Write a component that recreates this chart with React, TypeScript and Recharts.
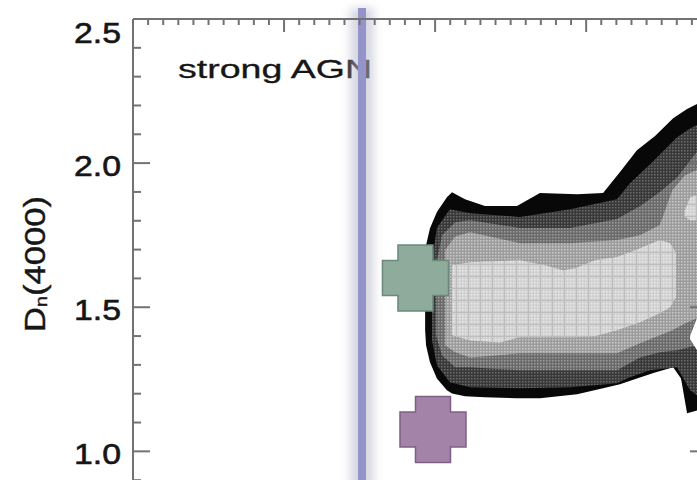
import React from 'react'
import { ComposedChart, Area, Scatter, XAxis, YAxis, ReferenceLine } from 'recharts'

type Band = [number, number, number][]

// density contours, outermost first: [x, lower D_n, upper D_n]
const bandOuter: Band = [
  [10.967, 1.42, 1.587],
  [10.97, 1.368, 1.715],
  [10.983, 1.309, 1.774],
  [11.006, 1.253, 1.83],
  [11.039, 1.212, 1.882],
  [11.056, 1.201, 1.899],
  [11.099, 1.191, 1.875],
  [11.165, 1.188, 1.851],
  [11.271, 1.184, 1.851],
  [11.347, 1.184, 1.896],
  [11.47, 1.198, 1.892],
  [11.556, 1.219, 1.896],
  [11.612, 1.233, 1.969],
  [11.668, 1.253, 2.045],
  [11.728, 1.274, 2.094],
  [11.788, 1.292, 2.156],
  [11.814, 1.253, 2.174],
  [11.834, 1.132, 2.188],
  [11.867, 1.142, 2.205],
  [11.9, 1.16, 2.219],
]

const bandDark: Band = [
  [10.99, 1.385, 1.663],
  [11.006, 1.299, 1.775],
  [11.049, 1.24, 1.84],
  [11.116, 1.222, 1.826],
  [11.281, 1.219, 1.813],
  [11.447, 1.222, 1.84],
  [11.602, 1.236, 1.875],
  [11.645, 1.257, 1.93],
  [11.711, 1.281, 1.995],
  [11.801, 1.292, 2.09],
  [11.844, 1.212, 2.12],
  [11.867, 1.194, 2.132],
  [11.9, 1.194, 2.145],
]

const bandMid: Band = [
  [11.003, 1.403, 1.646],
  [11.023, 1.333, 1.75],
  [11.066, 1.292, 1.795],
  [11.116, 1.292, 1.802],
  [11.281, 1.281, 1.775],
  [11.447, 1.281, 1.775],
  [11.602, 1.281, 1.806],
  [11.678, 1.326, 1.85],
  [11.744, 1.344, 1.9],
  [11.801, 1.351, 1.95],
  [11.867, 1.368, 2.04],
  [11.9, 1.368, 2.06],
]

const bandLight: Band = [
  [11.033, 1.368, 1.698],
  [11.066, 1.344, 1.745],
  [11.116, 1.326, 1.76],
  [11.281, 1.34, 1.722],
  [11.447, 1.34, 1.722],
  [11.602, 1.34, 1.733],
  [11.678, 1.375, 1.75],
  [11.744, 1.403, 1.785],
  [11.785, 1.42, 1.906],
  [11.827, 1.444, 1.958],
  [11.867, 1.462, 1.976],
  [11.9, 1.462, 1.976],
]

const bandCore: Band = [
  [11.056, 1.403, 1.646],
  [11.116, 1.385, 1.656],
  [11.215, 1.378, 1.66],
  [11.281, 1.396, 1.663],
  [11.364, 1.396, 1.646],
  [11.423, 1.396, 1.628],
  [11.463, 1.396, 1.635],
  [11.529, 1.399, 1.663],
  [11.602, 1.42, 1.674],
  [11.678, 1.448, 1.705],
  [11.744, 1.479, 1.733],
  [11.778, 1.5, 1.722],
  [11.797, 1.535, 1.69],
]

const bandCoreLobe: Band = [
  [11.824, 1.816, 1.83],
  [11.844, 1.802, 1.882],
  [11.867, 1.802, 1.889],
  [11.9, 1.809, 1.889],
]

// empty wedge cutting into the right edge
const bandGap: Band = [
  [11.844, 1.39, 1.4],
  [11.867, 1.351, 1.462],
  [11.9, 1.33, 1.48],
]

const sampleA = [{ x: 10.935, y: 1.601 }]
const sampleB = [{ x: 10.993, y: 1.076 }]

const agnCut = 10.758
const agnCutTop = 2.538

const xDomain: [number, number] = [10, 11.9]
const yDomain: [number, number] = [0.8, 2.5]
const yMajor = [1.0, 1.5, 2.0, 2.5]

const xTicks = Array.from({ length: 38 }, (_, i) => Math.round((10.05 + i * 0.05) * 100) / 100)
const yTicks = Array.from({ length: 18 }, (_, i) => Math.round((0.8 + i * 0.1) * 10) / 10)

const axisColor = '#727272'
const inkColor = '#161616'
const font = '"Liberation Sans", Arial, sans-serif'

const toRange = (rows: Band) => rows.map(([x, lo, hi]) => ({ x, range: [lo, hi] }))

const isMajorY = (v: number) => yMajor.some((m) => Math.abs(m - v) < 1e-6)
const isMajorX = (v: number) => Math.abs(v * 2 - Math.round(v * 2)) < 1e-6

function LeftTick(props: any) {
  const { x, y, payload } = props
  const v = payload.value as number
  const major = isMajorY(v)
  // the top label sits below the frame corner
  const dy = Math.abs(v - yDomain[1]) < 1e-6 ? 24 : 13
  return (
    <g>
      <line x1={x} x2={x + (major ? 17 : 8)} y1={y} y2={y} stroke={axisColor} strokeWidth={2} />
      {major && (
        <text
          x={x - 12}
          y={y + dy}
          textAnchor="end"
          fontSize={30}
          fontFamily={font}
          fill={inkColor}
          stroke={inkColor}
          strokeWidth={0.6}
          textLength={47}
          lengthAdjust="spacingAndGlyphs"
        >
          {v.toFixed(1)}
        </text>
      )}
    </g>
  )
}

function RightTick(props: any) {
  const { x, y, payload } = props
  const major = isMajorY(payload.value)
  return <line x1={x} x2={x - (major ? 17 : 8)} y1={y} y2={y} stroke={axisColor} strokeWidth={2} />
}

function TopTick(props: any) {
  const { x, y, payload } = props
  const major = isMajorX(payload.value)
  return <line x1={x} x2={x} y1={y} y2={y + (major ? 13 : 6)} stroke={axisColor} strokeWidth={2} />
}

const crossShape = (fill: string, stroke: string) => (props: any) => {
  const { cx, cy } = props
  const h = 33
  const a = 17.5
  const d = `M${cx - a},${cy - h}H${cx + a}V${cy - a}H${cx + h}V${cy + a}H${cx + a}V${cy + h}H${cx - a}V${cy + a}H${cx - h}V${cy - a}H${cx - a}Z`
  return <path d={d} fill={fill} stroke={stroke} strokeWidth={1.5} />
}

function CutLine(props: any) {
  const { x1, y1, x2, y2 } = props
  return (
    <g>
      <line x1={x1} y1={y1} x2={x2} y2={y2} stroke="#b8b8cc" strokeWidth={24} strokeOpacity={0.55} filter="url(#cutGlow)" />
      <line x1={x1} y1={y1} x2={x2} y2={y2} stroke="#9494c9" strokeWidth={8} />
    </g>
  )
}

function Halftone({ id, base, dot }: { id: string; base: string; dot: string }) {
  return (
    <pattern id={id} width={3} height={3} patternUnits="userSpaceOnUse">
      <rect width={3} height={3} fill={base} />
      <rect width={1.5} height={1.5} fill={dot} />
    </pattern>
  )
}

export default function App() {
  return (
    <div style={{ position: 'relative', width: 730, height: 509 }}>
      <style>{'html,body{margin:0;padding:0;overflow:hidden;background:#fff}'}</style>
      <svg width={730} height={509} style={{ position: 'absolute', left: 0, top: 0 }}>
        <text
          x={178}
          y={78}
          fontSize={25}
          fontFamily={font}
          fill={inkColor}
          stroke={inkColor}
          strokeWidth={0.3}
          textLength={194}
          lengthAdjust="spacingAndGlyphs"
        >
          strong AGN
        </text>
        <text
          transform="translate(45,264) rotate(-90)"
          textAnchor="middle"
          fontSize={30}
          fontFamily={font}
          fill={inkColor}
          stroke={inkColor}
          strokeWidth={0.4}
          textLength={136}
          lengthAdjust="spacingAndGlyphs"
        >
          D<tspan fontSize={17} dy={2}>n</tspan>
          <tspan dy={-2}>(4000)</tspan>
        </text>
      </svg>
      <div style={{ position: 'absolute', left: 0, top: 0 }}>
        <ComposedChart width={730} height={509} margin={{ top: 18, right: 0, bottom: 0, left: 0 }}>
          <defs>
            <Halftone id="toneDark" base="#383838" dot="#6c6c6c" />
            <Halftone id="toneMid" base="#6a6a6a" dot="#9c9c9c" />
            <Halftone id="toneLight" base="#9c9c9c" dot="#cacaca" />
            <Halftone id="toneCoreDots" base="#cfcfcf" dot="#eeeeee" />
            <pattern id="toneCore" width={12} height={12} patternUnits="userSpaceOnUse">
              <rect width={12} height={12} fill="url(#toneCoreDots)" />
              <rect width={1} height={12} fill="#bdbdbd" />
              <rect width={12} height={1} fill="#bdbdbd" />
            </pattern>
            <filter id="cutGlow" filterUnits="userSpaceOnUse" x={0} y={0} width={800} height={600}>
              <feGaussianBlur stdDeviation={4} />
            </filter>
          </defs>
          <XAxis
            type="number"
            dataKey="x"
            orientation="top"
            domain={xDomain}
            allowDataOverflow
            ticks={xTicks}
            height={1}
            tickSize={0}
            tickMargin={0}
            tickLine={false}
            tick={<TopTick />}
            axisLine={{ stroke: axisColor, strokeWidth: 2 }}
            interval={0}
          />
          <YAxis
            type="number"
            dataKey="y"
            domain={yDomain}
            allowDataOverflow
            ticks={yTicks}
            width={133}
            tickSize={0}
            tickMargin={0}
            tickLine={false}
            tick={<LeftTick />}
            axisLine={{ stroke: axisColor, strokeWidth: 2 }}
            interval={0}
          />
          <YAxis
            yAxisId="right"
            orientation="right"
            type="number"
            domain={yDomain}
            allowDataOverflow
            ticks={yTicks}
            width={23}
            tickSize={0}
            tickMargin={0}
            tickLine={false}
            tick={<RightTick />}
            axisLine={{ stroke: axisColor, strokeWidth: 2 }}
            interval={0}
          />
          <Area data={toRange(bandOuter)} dataKey="range" type="linear" stroke="none" fill="#080808" fillOpacity={1} isAnimationActive={false} />
          <Area data={toRange(bandDark)} dataKey="range" type="linear" stroke="none" fill="url(#toneDark)" fillOpacity={1} isAnimationActive={false} />
          <Area data={toRange(bandMid)} dataKey="range" type="linear" stroke="none" fill="url(#toneMid)" fillOpacity={1} isAnimationActive={false} />
          <Area data={toRange(bandLight)} dataKey="range" type="linear" stroke="none" fill="url(#toneLight)" fillOpacity={1} isAnimationActive={false} />
          <Area data={toRange(bandCore)} dataKey="range" type="linear" stroke="none" fill="url(#toneCore)" fillOpacity={1} isAnimationActive={false} />
          <Area data={toRange(bandCoreLobe)} dataKey="range" type="linear" stroke="none" fill="url(#toneCore)" fillOpacity={1} isAnimationActive={false} />
          <Area data={toRange(bandGap)} dataKey="range" type="linear" stroke="none" fill="#ffffff" fillOpacity={1} isAnimationActive={false} />
          <Scatter data={sampleA} dataKey="y" shape={crossShape('#8fab9b', '#6b8a7a')} isAnimationActive={false} />
          <Scatter data={sampleB} dataKey="y" shape={crossShape('#a483a9', '#7f5f88')} isAnimationActive={false} />
          <ReferenceLine
            segment={[
              { x: agnCut, y: yDomain[0] },
              { x: agnCut, y: agnCutTop },
            ]}
            ifOverflow="visible"
            shape={<CutLine />}
          />
        </ComposedChart>
      </div>
    </div>
  )
}
